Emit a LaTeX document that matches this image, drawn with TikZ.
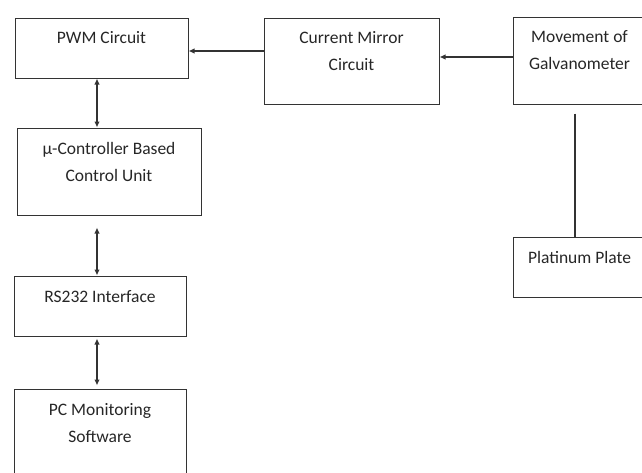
\documentclass[tikz,border=0pt]{standalone}
\usepackage{fontspec}
\setmainfont{Carlito}
\usetikzlibrary{arrows.meta,calc}

\tikzset{
  block/.style={draw=black!80, line width=1pt, inner sep=0pt, align=center,
    font=\fontsize{17.5}{27}\selectfont, text=black!85},
  link/.style={draw=black!80, line width=1.1pt, -{Latex[length=6pt,width=5.5pt]}},
  duplex/.style={link, {Latex[length=6pt,width=5.5pt]}-{Latex[length=6pt,width=5.5pt]}},
}

\begin{document}
\begin{tikzpicture}[x=1pt,y=-1pt]
  \useasboundingbox (0,0) rectangle (642,472);
  \clip (0,0) rectangle (642,472);
  % left column (text height = baseline of the last line below the top edge)
  \node[block, minimum width=173pt, text height=25pt, text depth=35pt] (pwm) at (101.5,48) {PWM Circuit};
  \node[block, minimum width=184pt, text height=53pt, text depth=34pt] (ctrl) at (109,171.5) {µ-Controller Based\\Control Unit};
  \node[block, minimum width=172pt, text height=26pt, text depth=34pt] (rs) at (100,306) {RS232 Interface};
  \node[block, minimum width=172pt, text height=53pt, text depth=38pt] (pc) at (100,434.5) {PC Monitoring\\Software};
  % sensing side
  \node[block, minimum width=175pt, text height=52pt, text depth=34pt] (mirror) at (351.5,61) {Current Mirror\\Circuit};
  \node[block, minimum width=133pt, text height=52pt, text depth=35pt] (move) at (579.5,60.5) {Movement of\\Galvanometer};
  \node[block, minimum width=133pt, text height=26pt, text depth=34pt] (plate) at (579.5,267) {Platinum Plate};

  \coordinate (bus) at (97,0);
  \draw[duplex] (bus |- pwm.south) -- (bus |- ctrl.north);
  \draw[duplex] ($(bus |- ctrl.south)+(0,12)$) -- (bus |- rs.north);
  \draw[duplex, shorten <=2pt, shorten >=3pt] (bus |- rs.south) -- (bus |- pc.north);

  \draw[link] ($(pwm.east -| mirror.west)+(0,3)$) -- ($(pwm.east)+(0,3)$);
  \draw[link] ($(mirror.east -| move.west)+(0,-4)$) -- ($(mirror.east)+(0,-4)$);
  \draw[draw=black!80, line width=1.1pt] ($(move.south)+(-4.5,9)$) -- ($(plate.north)+(-4.5,0)$);
\end{tikzpicture}
\end{document}
